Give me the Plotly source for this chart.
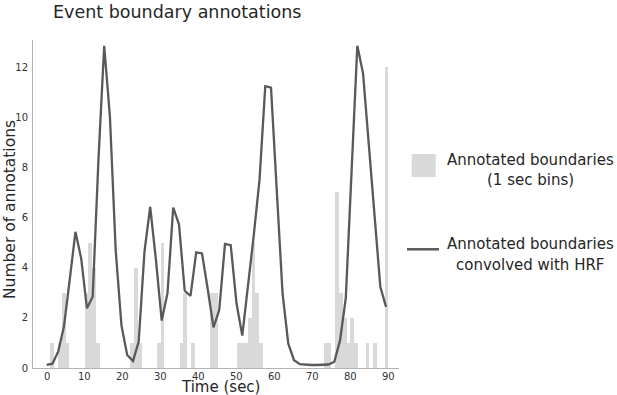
import plotly.graph_objects as go

# Histogram of annotated boundaries (1-sec bins): bin start (sec) and count
bin_start = [1, 3, 4, 5, 10, 11, 12, 13, 22, 23, 24, 29, 30, 35, 36, 38, 43, 44,
             50, 51, 52, 53, 54, 55, 56, 73, 74, 76, 77, 78, 79, 80, 81, 84, 86, 89]
bin_count = [1, 1, 3, 1, 3, 5, 4, 1, 1, 4, 1, 1, 5, 1, 3, 1, 3, 3,
             1, 1, 1, 2, 5, 3, 1, 1, 1, 7, 3, 2, 1, 2, 1, 1, 1, 12]

# Boundaries convolved with HRF (sampled time grid and values)
hrf_time = [0.0, 1.52, 3.03, 4.55, 6.06, 7.58, 9.09, 10.61, 12.12, 13.64,
            15.15, 16.67, 18.18, 19.70, 21.21, 22.73, 24.24, 25.76, 27.27, 28.79,
            30.30, 31.82, 33.33, 34.85, 36.36, 37.88, 39.39, 40.91, 42.42, 43.94,
            45.45, 46.97, 48.48, 50.00, 51.52, 53.03, 54.55, 56.06, 57.58, 59.09,
            60.61, 62.12, 63.64, 65.15, 66.67, 68.18, 69.70, 71.21, 72.73, 74.24,
            75.76, 77.27, 78.79, 80.30, 81.82, 83.33, 84.85, 86.36, 87.88, 89.39]
hrf_value = [0.12, 0.17, 0.65, 1.65, 3.5, 5.43, 4.37, 2.38, 2.84, 8.3,
             12.85, 10.0, 4.7, 1.7, 0.52, 0.28, 1.05, 4.64, 6.43, 4.3,
             1.89, 2.98, 6.4, 5.73, 3.08, 2.88, 4.61, 4.57, 3.15, 1.62,
             2.31, 4.95, 4.9, 2.58, 1.29, 3.2, 5.3, 7.5, 11.24, 11.18,
             7.2, 3.0, 0.97, 0.31, 0.15, 0.12, 0.12, 0.12, 0.12, 0.14,
             0.25, 1.1, 2.8, 7.8, 12.85, 11.75, 8.9, 6.0, 3.24, 2.44]

x_ticks = [0, 10, 20, 30, 40, 50, 60, 70, 80, 90]
y_ticks = [0, 2, 4, 6, 8, 10, 12]

FONT = "DejaVu Sans"
BAR_COLOR = "#d9d9d9"
LINE_COLOR = "#595959"
AXIS_COLOR = "#b3b3b3"
TEXT_COLOR = "#262626"
TICK_COLOR = "#333333"

FIG_W, FIG_H = 617, 395

# plot-area geometry in pixels
L, R, T, B = 33, 399, 40, 368
W, H = R - L, B - T


def px(xp):
    return (xp - L) / W


def py(yp):
    return (B - yp) / H


fig = go.Figure()
fig.add_trace(go.Bar(
    x=[s + 0.5 for s in bin_start], y=bin_count, width=1.0,
    marker=dict(color=BAR_COLOR, line=dict(width=0)),
    name="Annotated boundaries (1 sec bins)"))
fig.add_trace(go.Scatter(
    x=hrf_time, y=hrf_value, mode="lines",
    line=dict(color=LINE_COLOR, width=2.3),
    name="Annotated boundaries convolved with HRF"))

axis_common = dict(showgrid=False, zeroline=False, showline=True,
                   linecolor=AXIS_COLOR, linewidth=1, ticks="",
                   tickfont=dict(family=FONT, size=10, color=TICK_COLOR))

fig.update_layout(
    width=FIG_W, height=FIG_H,
    margin=dict(l=L, r=FIG_W - R, t=T, b=FIG_H - B, autoexpand=False),
    paper_bgcolor="white", plot_bgcolor="white",
    showlegend=False, bargap=0,
    font=dict(family=FONT, color=TEXT_COLOR),
    title=dict(text="Event boundary annotations", xref="container",
               x=53 / FIG_W, xanchor="left", yref="container",
               y=1 - 12 / FIG_H, yanchor="middle",
               font=dict(family=FONT, size=17.5, color=TEXT_COLOR)),
    xaxis=dict(range=[-3.6, 92.8], tickvals=x_ticks, showticklabels=False,
               **axis_common),
    yaxis=dict(range=[0, 13.08], tickvals=y_ticks, ticklabelstandoff=2,
               **axis_common),
)

# x tick labels placed just under the axis, at the axis' own data positions
for t in x_ticks:
    fig.add_annotation(text=str(t), xref="x", yref="paper", x=t, y=0,
                       xanchor="center", yanchor="top", yshift=-1,
                       showarrow=False,
                       font=dict(family=FONT, size=10, color=TICK_COLOR))

annos = [
    dict(text="Time (sec)", x=px(220), y=py(387), size=15),
    dict(text="Number of annotations", x=px(10), y=py(210), size=15.5, angle=-90),
    dict(text="Annotated boundaries", x=px(530), y=py(160), size=15),
    dict(text="(1 sec bins)", x=px(530), y=py(180), size=15),
    dict(text="Annotated boundaries", x=px(530), y=py(244), size=15),
    dict(text="convolved with HRF", x=px(530), y=py(265), size=15),
]
for a in annos:
    fig.add_annotation(text=a["text"], xref="paper", yref="paper",
                       x=a["x"], y=a["y"], xanchor="center", yanchor="middle",
                       showarrow=False, textangle=a.get("angle", 0),
                       font=dict(family=FONT, size=a["size"], color=TEXT_COLOR))

# legend swatches
fig.add_shape(type="rect", xref="paper", yref="paper",
              x0=px(411.7), x1=px(435.7), y0=py(177), y1=py(154),
              fillcolor=BAR_COLOR, line=dict(width=0))
fig.add_shape(type="line", xref="paper", yref="paper",
              x0=px(407), x1=px(439), y0=py(249.3), y1=py(249.3),
              line=dict(color=LINE_COLOR, width=2.5))

fig.write_html(
    "out.html",
    config={"displayModeBar": False},
    post_script="document.body.style.margin='0';document.body.style.overflow='hidden';",
)
